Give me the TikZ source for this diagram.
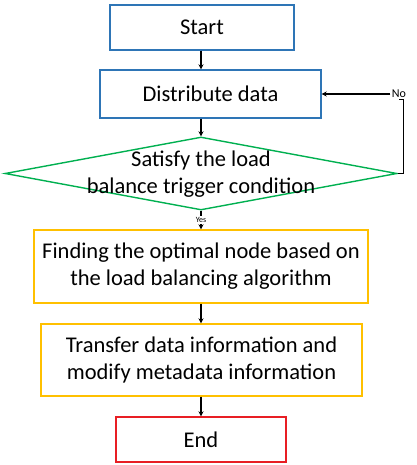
\documentclass[tikz,border=0pt]{standalone}
\usepackage{fontspec}
\setmainfont{Carlito}
\usepackage{xcolor}
\usetikzlibrary{arrows.meta,positioning,shapes.geometric}
\definecolor{boxblue}{RGB}{46,117,182}
\definecolor{boxgreen}{RGB}{0,176,80}
\definecolor{boxgold}{RGB}{255,192,0}
\definecolor{boxred}{RGB}{232,30,36}
\begin{document}
\begin{tikzpicture}[x=1pt, y=-1pt,
  stepbox/.style={draw, line width=1.4pt, inner sep=0pt, align=center, font=\fontsize{22.5}{27}\selectfont},
  decision/.style={draw=boxgreen, diamond, line width=1.4pt, inner sep=0pt, minimum width=392pt, minimum height=73pt},
  arrow/.style={-{Stealth[length=5pt,width=5pt]}, line width=1.1pt}
]
\useasboundingbox (0,0) rectangle (416,465);
\node[stepbox, draw=boxblue, minimum width=184pt, minimum height=45pt] (start) at (202,27.5) {Start};
\node[stepbox, draw=boxblue, minimum width=221pt, minimum height=48pt] (dist) at (210.5,94) {Distribute data};
\node[decision] (cond) at (201,173.5) {};
\node[align=center, inner sep=0pt, font=\fontsize{22.5}{27}\selectfont] (condtext) at (201,174) {Satisfy the load\\balance trigger condition};
\node[stepbox, draw=boxgold, minimum width=334pt, minimum height=73pt] (find) at (201,266.5) {Finding the optimal node based on\\the load balancing algorithm};
\node[stepbox, draw=boxgold, minimum width=321pt, minimum height=72pt] (move) at (201.5,360) {Transfer data information and\\modify metadata information};
\node[stepbox, draw=boxred, minimum width=170pt, minimum height=45pt] (stop) at (201,439.5) {End};
\node[font=\fontsize{12}{13}\selectfont, fill=white, inner sep=1.5pt] (no) at (399,94) {No};
% connectors
\draw[arrow] (start.south -| cond.north) -- (cond.north |- dist.north);
\draw[arrow] (cond.north |- dist.south) -- (cond.north);
\draw[arrow] (cond.south) -- node[font=\fontsize{8}{9}\selectfont, fill=white, inner sep=1pt] (yes) {Yes} (find.north);
\draw[arrow] (find.south) -- (find.south |- move.north);
\draw[arrow] (move.south -| stop.north) -- (stop.north);
\draw[line width=1.1pt] (cond.east) -- ++(6,0) |- (no.south) ;
\draw[arrow] (no.west) -- (dist.east);
\end{tikzpicture}
\end{document}
